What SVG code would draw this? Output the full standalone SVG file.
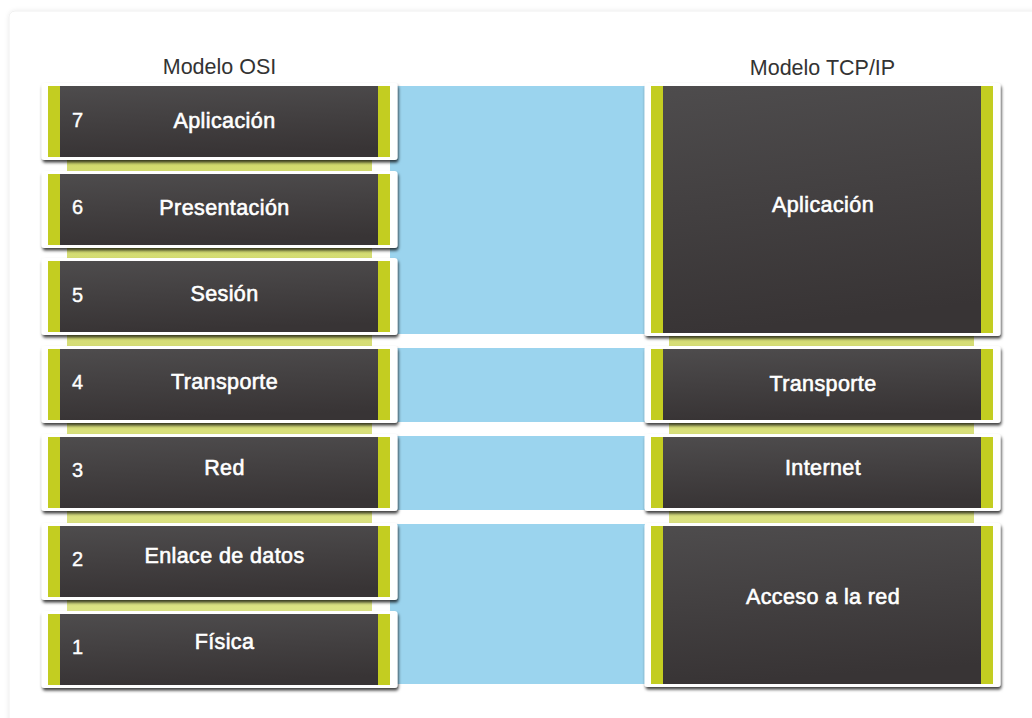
<svg xmlns="http://www.w3.org/2000/svg" width="1032" height="718" viewBox="0 0 1032 718">
<defs>
<linearGradient id="dark" x1="0" y1="0" x2="0.15" y2="1">
<stop offset="0" stop-color="#4e4c4d"/>
<stop offset="1" stop-color="#383435"/>
</linearGradient>
<linearGradient id="strip" x1="0" y1="0" x2="0" y2="1">
<stop offset="0" stop-color="#d2da6c"/>
<stop offset="1" stop-color="#dce386"/>
</linearGradient>
<filter id="sh" x="-5%" y="-5%" width="112%" height="115%">
<feDropShadow dx="1" dy="2.5" stdDeviation="1.6" flood-color="#000" flood-opacity="0.75"/>
</filter>
<filter id="cardsh" x="-2%" y="-2%" width="104%" height="104%">
<feDropShadow dx="0" dy="0" stdDeviation="2" flood-color="#000" flood-opacity="0.08"/>
</filter>
</defs>
<style>
.frame{fill:#ffffff;filter:url(#sh)}
.inner{fill:url(#dark)}
.bar{fill:#c3cd21}
.blue{fill:#9bd4ee}
.strip{fill:url(#strip)}
.lbl{font-family:"Liberation Sans",Arial,sans-serif;font-size:21.5px;letter-spacing:0.4px;fill:#ffffff;stroke:#ffffff;stroke-width:0.6;text-anchor:middle}
.num{font-family:"Liberation Sans",Arial,sans-serif;font-size:20px;fill:#ffffff;stroke:#ffffff;stroke-width:0.4}
.title{font-family:"Liberation Sans",Arial,sans-serif;font-size:21.5px;fill:#333333;text-anchor:middle}
</style>
<rect x="0" y="0" width="1032" height="718" fill="#ffffff"/>
<rect x="9" y="11" width="1030" height="720" rx="6" fill="#ffffff" stroke="#efefef" stroke-width="1" filter="url(#cardsh)"/>

<text class="title" x="219.5" y="74">Modelo OSI</text>
<text class="title" x="822.5" y="75">Modelo TCP/IP</text>

<g id="connectors">
<rect class="blue" x="390" y="86" width="262" height="248"/>
<rect class="blue" x="390" y="348" width="262" height="74"/>
<rect class="blue" x="390" y="436" width="262" height="74"/>
<rect class="blue" x="390" y="524" width="262" height="160"/>
<rect class="strip" x="67" y="120" width="305" height="540"/>
<rect class="strip" x="669" y="150" width="305" height="500"/>
</g>

<g id="osi7">
<rect class="frame" x="41.5" y="83" width="356" height="77" rx="3"/>
<rect class="inner" x="48" y="86" width="342" height="71"/>
<rect class="bar" x="48" y="86" width="12" height="71"/>
<rect class="bar" x="378" y="86" width="12" height="71"/>
<text class="num" x="72" y="127">7</text>
<text class="lbl" x="224.5" y="128">Aplicación</text>
</g>
<g id="osi6">
<rect class="frame" x="41.5" y="171" width="356" height="77" rx="3"/>
<rect class="inner" x="48" y="174" width="342" height="71"/>
<rect class="bar" x="48" y="174" width="12" height="71"/>
<rect class="bar" x="378" y="174" width="12" height="71"/>
<text class="num" x="72" y="214">6</text>
<text class="lbl" x="224.5" y="215">Presentación</text>
</g>
<g id="osi5">
<rect class="frame" x="41.5" y="258" width="356" height="77" rx="3"/>
<rect class="inner" x="48" y="261" width="342" height="71"/>
<rect class="bar" x="48" y="261" width="12" height="71"/>
<rect class="bar" x="378" y="261" width="12" height="71"/>
<text class="num" x="72" y="302">5</text>
<text class="lbl" x="224.5" y="301">Sesión</text>
</g>
<g id="osi4">
<rect class="frame" x="41.5" y="346" width="356" height="77" rx="3"/>
<rect class="inner" x="48" y="349" width="342" height="71"/>
<rect class="bar" x="48" y="349" width="12" height="71"/>
<rect class="bar" x="378" y="349" width="12" height="71"/>
<text class="num" x="72" y="389">4</text>
<text class="lbl" x="224.5" y="389">Transporte</text>
</g>
<g id="osi3">
<rect class="frame" x="41.5" y="434" width="356" height="77" rx="3"/>
<rect class="inner" x="48" y="437" width="342" height="71"/>
<rect class="bar" x="48" y="437" width="12" height="71"/>
<rect class="bar" x="378" y="437" width="12" height="71"/>
<text class="num" x="72" y="477">3</text>
<text class="lbl" x="224.5" y="475">Red</text>
</g>
<g id="osi2">
<rect class="frame" x="41.5" y="523" width="356" height="77" rx="3"/>
<rect class="inner" x="48" y="526" width="342" height="71"/>
<rect class="bar" x="48" y="526" width="12" height="71"/>
<rect class="bar" x="378" y="526" width="12" height="71"/>
<text class="num" x="72" y="566">2</text>
<text class="lbl" x="224.5" y="563">Enlace de datos</text>
</g>
<g id="osi1">
<rect class="frame" x="41.5" y="611" width="356" height="77" rx="3"/>
<rect class="inner" x="48" y="614" width="342" height="71"/>
<rect class="bar" x="48" y="614" width="12" height="71"/>
<rect class="bar" x="378" y="614" width="12" height="71"/>
<text class="num" x="72" y="654">1</text>
<text class="lbl" x="224.5" y="649">Física</text>
</g>

<g id="tcp-aplicacion">
<rect class="frame" x="644.5" y="83" width="356" height="253" rx="3"/>
<rect class="inner" x="651" y="86" width="342" height="247"/>
<rect class="bar" x="651" y="86" width="12" height="247"/>
<rect class="bar" x="981" y="86" width="12" height="247"/>
<text class="lbl" x="823" y="212">Aplicación</text>
</g>
<g id="tcp-transporte">
<rect class="frame" x="644.5" y="346" width="356" height="77" rx="3"/>
<rect class="inner" x="651" y="349" width="342" height="71"/>
<rect class="bar" x="651" y="349" width="12" height="71"/>
<rect class="bar" x="981" y="349" width="12" height="71"/>
<text class="lbl" x="823" y="391">Transporte</text>
</g>
<g id="tcp-internet">
<rect class="frame" x="644.5" y="434" width="356" height="77" rx="3"/>
<rect class="inner" x="651" y="437" width="342" height="71"/>
<rect class="bar" x="651" y="437" width="12" height="71"/>
<rect class="bar" x="981" y="437" width="12" height="71"/>
<text class="lbl" x="823" y="475">Internet</text>
</g>
<g id="tcp-acceso">
<rect class="frame" x="644.5" y="523" width="356" height="164" rx="3"/>
<rect class="inner" x="651" y="526" width="342" height="158"/>
<rect class="bar" x="651" y="526" width="12" height="158"/>
<rect class="bar" x="981" y="526" width="12" height="158"/>
<text class="lbl" x="823" y="604">Acceso a la red</text>
</g>
</svg>
